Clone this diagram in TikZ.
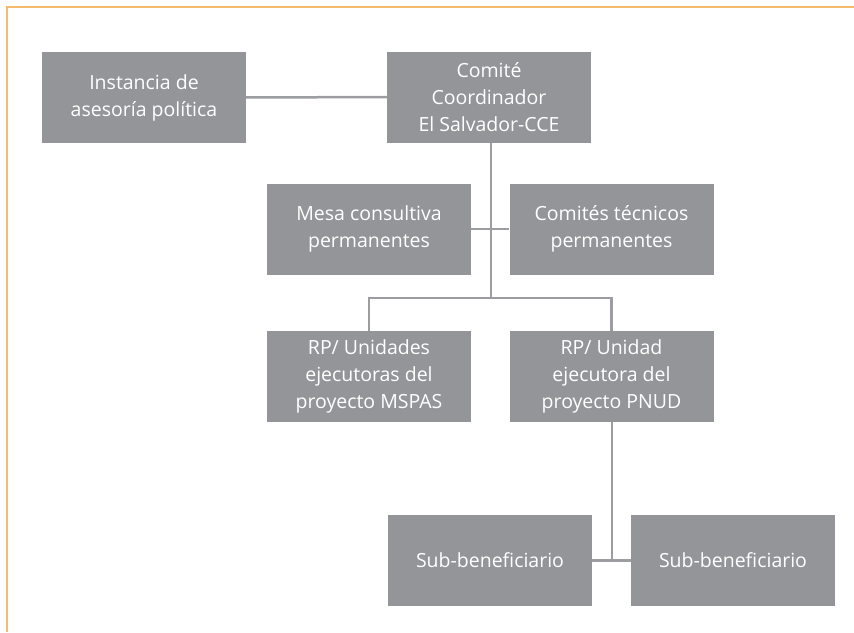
\documentclass[tikz,border=0pt]{standalone}
\usepackage{fontspec}
\newfontfamily\boxfont{Open Sans}
\definecolor{boxgray}{HTML}{939598}
\definecolor{linegray}{HTML}{9B9DA0}
\definecolor{frameorange}{HTML}{F5BA6E}
\begin{document}
\begin{tikzpicture}[x=1pt, y=-1pt,
  unit/.style={rectangle, fill=boxgray, text=white, minimum width=204pt,
    minimum height=91pt, inner sep=0pt, align=center,
    font=\boxfont\fontsize{19.5}{27}\selectfont},
  link/.style={draw=linegray, line width=2.5pt}]
  \useasboundingbox (0,0) rectangle (854,632);
  \draw[frameorange, line width=2pt] (6.5,632) -- (6.5,7) -- (854,7);

  \node[unit] (inst) at (144,97.5) {Instancia de\\asesoría política};
  \node[unit] (cce) at (489,97) {Comité\\Coordinador\\El Salvador-CCE};
  \node[unit] (mesa) at (369,229) {Mesa consultiva\\permanentes};
  \node[unit] (tec) at (611.5,229) {Comités técnicos\\permanentes};
  \node[unit] (rpa) at (369,376.5) {RP/ Unidades\\ejecutoras del\\proyecto MSPAS};
  \node[unit] (rpb) at (611.5,376.5) {RP/ Unidad\\ejecutora del\\proyecto PNUD};
  \node[unit] (suba) at (490,560.5) {Sub-beneficiario};
  \node[unit] (subb) at (733,560.5) {Sub-beneficiario};

  \coordinate (split) at (491,298);
  \coordinate (join) at (612,560.5);

  \draw[link] (inst) -- (cce);
  \draw[link] (cce.south -| split) -- (split);
  \draw[link] (mesa.east) -- (tec.west);
  \draw[link] (rpa.north) |- (split) -| (rpb.north);
  \draw[link] (rpb.south -| join) -- (join);
  \draw[link] (suba.east) -- (subb.west);
\end{tikzpicture}
\end{document}
